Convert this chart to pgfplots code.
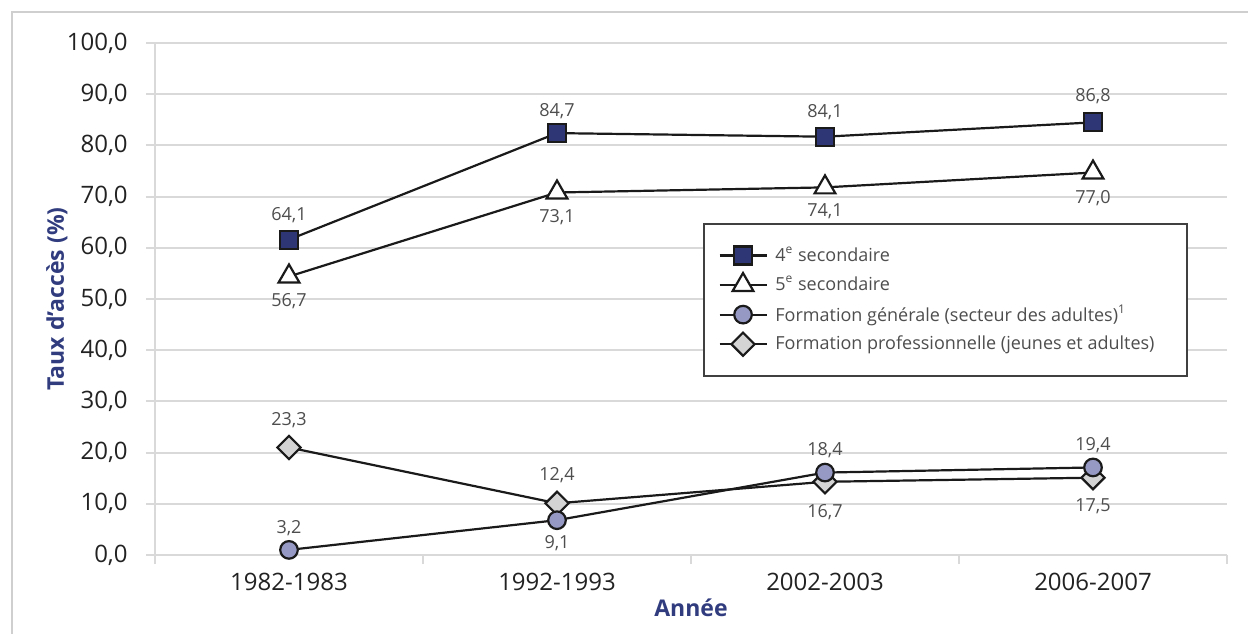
\documentclass[border=0pt]{standalone}
\usepackage{fontspec}
\setmainfont{Open Sans}
\usepackage{pgfplots}
\usepackage{pgfplotstable}
\pgfplotsset{compat=1.18}

\definecolor{navy}{HTML}{2E3675}
\definecolor{lav}{HTML}{9699C3}
\definecolor{lgray}{HTML}{D4D4D4}
\definecolor{gridc}{HTML}{D9D9D9}
\definecolor{framec}{HTML}{CFCFCF}
\definecolor{labc}{HTML}{303C7E}
\definecolor{txt}{HTML}{222222}
\definecolor{lnc}{HTML}{1A1A1A}

% y = position read on the chart, lab = printed value, dy = label offset (pt)
\pgfplotstableread{
x y lab dy
0 61.6 64,1 12
1 82.4 84,7 11
2 81.7 84,1 12.5
3 84.5 86,8 13
}\quatre
\pgfplotstableread{
x y lab dy
0 54.4 56,7 -12.5
1 70.8 73,1 -12.5
2 71.8 74,1 -12
3 74.7 77,0 -13
}\cinq
\pgfplotstableread{
x y lab dy
0 1.0 3,2 11
1 6.8 9,1 -11.5
2 16.1 18,4 11.3
3 17.1 19,4 11.3
}\gen
\pgfplotstableread{
x y lab dy
0 21.0 23,3 13.5
1 10.1 12,4 14
2 14.3 16,7 -15
3 15.1 17,5 -14.5
}\pro

\pgfplotsset{
  s4/.style={lnc, line width=1.1pt, mark=square*, mark size=4.5pt, mark options={fill=navy, solid}},
  s5/.style={lnc, line width=1.1pt, mark=triangle*, mark size=6pt, mark options={fill=white, solid}},
  sg/.style={lnc, line width=1.1pt, mark=*, mark size=4.4pt, mark options={fill=lav, solid}},
  sp/.style={lnc, line width=1.1pt, mark=square*, mark size=4.1pt, mark options={fill=lgray, solid, rotate=45}},
  lbls/.style={forget plot, point meta=explicit symbolic, nodes near coords,
    visualization depends on={\thisrow{dy}\as\dy},
    nodes near coords style={anchor=center, yshift=\dy pt, inner sep=0pt,
      font=\fontsize{9}{11}\selectfont, text=txt!80}},
}

\begin{document}
\begin{tikzpicture}
\useasboundingbox (0,0) rectangle (624pt,317pt);
\draw[framec, line width=1.2pt] (6pt,0) -- (6pt,311pt) -- (624pt,311pt);
\begin{axis}[
  at={(77.5pt,39.5pt)}, anchor=south west,
  scale only axis, width=536pt, height=256pt,
  xmin=-0.5, xmax=3.5, ymin=0, ymax=100,
  xtick={0,1,2,3},
  xticklabels={1982-1983,1992-1993,2002-2003,2006-2007},
  minor xtick={-0.5,0.5,1.5,2.5,3.5},
  ytick={0,10,...,100},
  axis x line*=bottom, axis y line*=left,
  axis line style={gridc, line width=1pt},
  ymajorgrids, major grid style={gridc, line width=1pt},
  tick align=outside,
  major tick length=4.5pt, minor tick length=4.5pt,
  tick style={gridc, line width=1pt},
  major x tick style={draw=none},
  ticklabel style={font=\fontsize{12}{14}\selectfont, text=txt},
  yticklabel style={anchor=east, inner sep=0pt, xshift=-9pt,
    /pgf/number format/.cd, fixed, fixed zerofill, precision=1, use comma, 1000 sep={}},
  xticklabel style={anchor=center, inner sep=0pt, yshift=-9pt},
  /pgf/number format/assume math mode=true,
  xlabel={Année}, ylabel={Taux d’accès (\%)},
  label style={font=\bfseries\fontsize{11.5}{13}\selectfont, text=labc},
  xlabel style={at={(axis description cs:0.5,-0.1035)}, anchor=center},
  ylabel style={at={(axis description cs:-0.0915,0.5)}, anchor=center},
  clip=false,
  legend image code/.code={
    \path[draw=none, fill=none] (0pt,-7.4pt) rectangle (23.5pt,7.4pt);
    \draw[mark repeat=2,mark phase=2] plot coordinates {(0pt,0pt) (11.75pt,0pt) (23.5pt,0pt)};
  },
  legend style={draw=none, fill=none, inner sep=0pt,
    at={(rel axis cs:0.5252,0.6148)}, anchor=north west,
    font=\fontsize{9}{11}\selectfont, text=txt!80, row sep=0pt, column sep=3.9pt,
    nodes={inner sep=0pt, anchor=west}},
  legend cell align=left,
]
\addlegendimage{s4}
\addlegendentry{4\textsuperscript{e} secondaire}
\addlegendimage{s5}
\addlegendentry{5\textsuperscript{e} secondaire}
\addlegendimage{sg}
\addlegendentry{Formation générale (secteur des adultes)\textsuperscript{1}}
\addlegendimage{sp}
\addlegendentry{Formation professionnelle (jeunes et adultes)}

\addplot[s4, lbls] table[x=x, y=y, meta=lab] {\quatre};
\addplot[s5, lbls] table[x=x, y=y, meta=lab] {\cinq};
\addplot[sp, lbls] table[x=x, y=y, meta=lab] {\pro};
\addplot[sg, lbls] table[x=x, y=y, meta=lab] {\gen};

\draw[fill=white, draw=black!75, line width=0.8pt]
  (rel axis cs:0.5121,0.6465) rectangle (rel axis cs:0.9627,0.3496);
\end{axis}
\end{tikzpicture}
\end{document}
